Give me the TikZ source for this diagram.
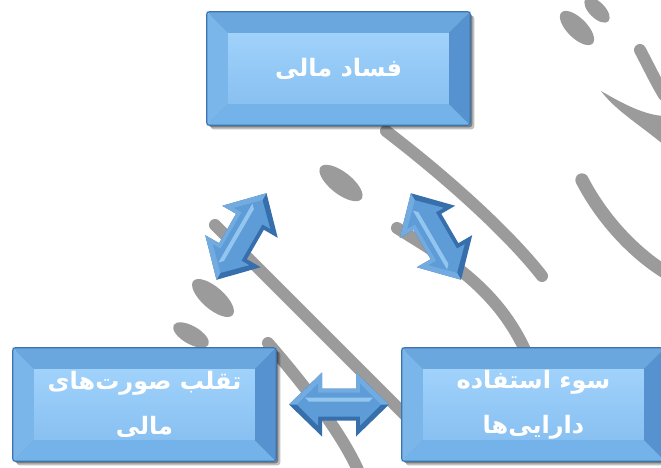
\documentclass[tikz,border=0pt]{standalone}
\usepackage{fontspec}
\TeXXeTstate=1
\newfontfamily\arabicfont[Script=Arabic]{DejaVu Sans}
\usetikzlibrary{calc,backgrounds}
\definecolor{wmgray}{HTML}{9B9B9B}
\definecolor{bxedge}{HTML}{3C74AE}
\definecolor{bvtop}{HTML}{6AA7DE}
\definecolor{bvbot}{HTML}{74B2EA}
\definecolor{bvleft}{HTML}{7AB6EA}
\definecolor{bvright}{HTML}{5592CF}
\definecolor{facetop}{HTML}{A0D2FB}
\definecolor{facebot}{HTML}{88C0F1}
\definecolor{arrdark}{HTML}{376FAD}
\definecolor{arrlight}{HTML}{72ABDF}
\definecolor{arrface}{HTML}{5E9CD8}
\definecolor{arrhi}{HTML}{93C6EF}
\newcommand\bevelbox[1]{%
  \fill[black,opacity=0.25,rounded corners=2pt] ([shift={(3pt,-3pt)}]#1.north west) rectangle ([shift={(3pt,-3pt)}]#1.south east);
  \fill[black,opacity=0.35,rounded corners=2pt] ([shift={(1.5pt,-1.5pt)}]#1.north west) rectangle ([shift={(1.5pt,-1.5pt)}]#1.south east);
  \fill[bvtop] (#1.north west) -- (#1.north east) -- ([shift={(-16pt,-16pt)}]#1.north east) -- ([shift={(16pt,-16pt)}]#1.north west) -- cycle;
  \fill[bvbot] (#1.south west) -- (#1.south east) -- ([shift={(-16pt,16pt)}]#1.south east) -- ([shift={(16pt,16pt)}]#1.south west) -- cycle;
  \fill[bvleft] (#1.north west) -- ([shift={(16pt,-16pt)}]#1.north west) -- ([shift={(16pt,16pt)}]#1.south west) -- (#1.south west) -- cycle;
  \fill[bvright] (#1.north east) -- ([shift={(-16pt,-16pt)}]#1.north east) -- ([shift={(-16pt,16pt)}]#1.south east) -- (#1.south east) -- cycle;
  \shade[top color=facetop, bottom color=facebot] ([shift={(16pt,-16pt)}]#1.north west) rectangle ([shift={(-16pt,16pt)}]#1.south east);
  \draw[bxedge, line width=0.8pt, rounded corners=2pt] (#1.north west) rectangle (#1.south east);
}
\tikzset{
  boxnode/.style={rectangle, minimum width=197.25pt, minimum height=84.75pt, inner sep=0pt,
    align=center, text=white, font=\arabicfont\bfseries\fontsize{18pt}{33.75pt}\selectfont},
  wm/.style={draw=wmgray, line cap=round, line width=9pt},
  dblarrow/.pic={
    \fill[arrdark] (-50,0) -- (-17,32) -- (-17,16) -- (17,16) -- (17,32) -- (50,0) -- (17,-32) -- (17,-16) -- (-17,-16) -- (-17,-32) -- cycle;
    \fill[arrlight] (-50,0) -- (-17,32) -- (-17,16) -- (17,16) -- (17,32) -- (50,0) -- cycle;
    \fill[arrface] (-42,0) -- (-21,21) -- (-21,12) -- (21,12) -- (21,21) -- (42,0) -- (21,-21) -- (21,-12) -- (-21,-12) -- (-21,-21) -- cycle;
    \fill[arrhi] (-30,3) -- (30,3) -- (34,7) -- (-34,7) -- cycle;
  }
}
\begin{document}
\begin{tikzpicture}[x=0.75pt,y=0.75pt]
\useasboundingbox (0,0) rectangle (661,-468);
% boxes (text on the main layer)
\node[boxnode] (top) at (338.5,-68.5) {\beginR فساد مالی\endR};
\node[boxnode] (lft) at (144.5,-404.5) {\beginR تقلب صورت^^^^200cهای\endR\\\beginR مالی\endR};
\node[boxnode] (rgt) at (533.5,-404.5) {\beginR سوء استفاده\endR\\\beginR دارایی^^^^200cها\endR};
\begin{scope}[on background layer]
  \fill[white] (0,0) rectangle (661,-468);
  % background calligraphy watermark
  \draw[wm] (386,-131) .. controls (450,-180) and (510,-235) .. (542,-276);
  \draw[wm] (215,-225) -- (405,-415);
  \draw[wm] (397,-228) .. controls (440,-255) and (495,-285) .. (525,-350);
  \draw[wm, line width=10pt] (582,-180) .. controls (600,-215) and (630,-250) .. (665,-272);
  \draw[wm] (268,-343) .. controls (300,-380) and (340,-430) .. (358,-470);
  \draw[wm] (640,-50) .. controls (648,-65) and (655,-80) .. (664,-95);
  \fill[wmgray] (601,-91) .. controls (625,-105) and (645,-115) .. (664,-116) -- (664,-145) .. controls (640,-125) and (615,-110) .. cycle;
  \fill[wmgray, rotate around={-38:(341,-183)}] (341,-183) ellipse (26 and 11);
  \fill[wmgray, rotate around={-41:(213,-298)}] (213,-298) ellipse (26 and 11);
  \fill[wmgray, rotate around={-30:(191,-335)}] (191,-335) ellipse (20 and 9);
  \fill[wmgray, rotate around={-45:(577,-28)}] (577,-28) ellipse (22 and 10);
  \fill[wmgray, rotate around={-45:(597,-10)}] (597,-10) ellipse (16 and 8);
  % bevelled box faces
  \bevelbox{top}
  \bevelbox{lft}
  \bevelbox{rgt}
\end{scope}
% double block arrows between the boxes
\path let \p1=($(top)-(lft)$), \n1={atan2(\y1,\x1)} in pic[rotate=\n1] at ($(lft)!0.5!(top)$) {dblarrow};
\path let \p1=($(top)-(rgt)$), \n1={atan2(\y1,\x1)} in pic[rotate=\n1] at ($(rgt)!0.5!(top)$) {dblarrow};
\path let \p1=($(rgt)-(lft)$), \n1={atan2(\y1,\x1)} in pic[rotate=\n1] at ($(lft)!0.5!(rgt)$) {dblarrow};
\end{tikzpicture}
\end{document}
